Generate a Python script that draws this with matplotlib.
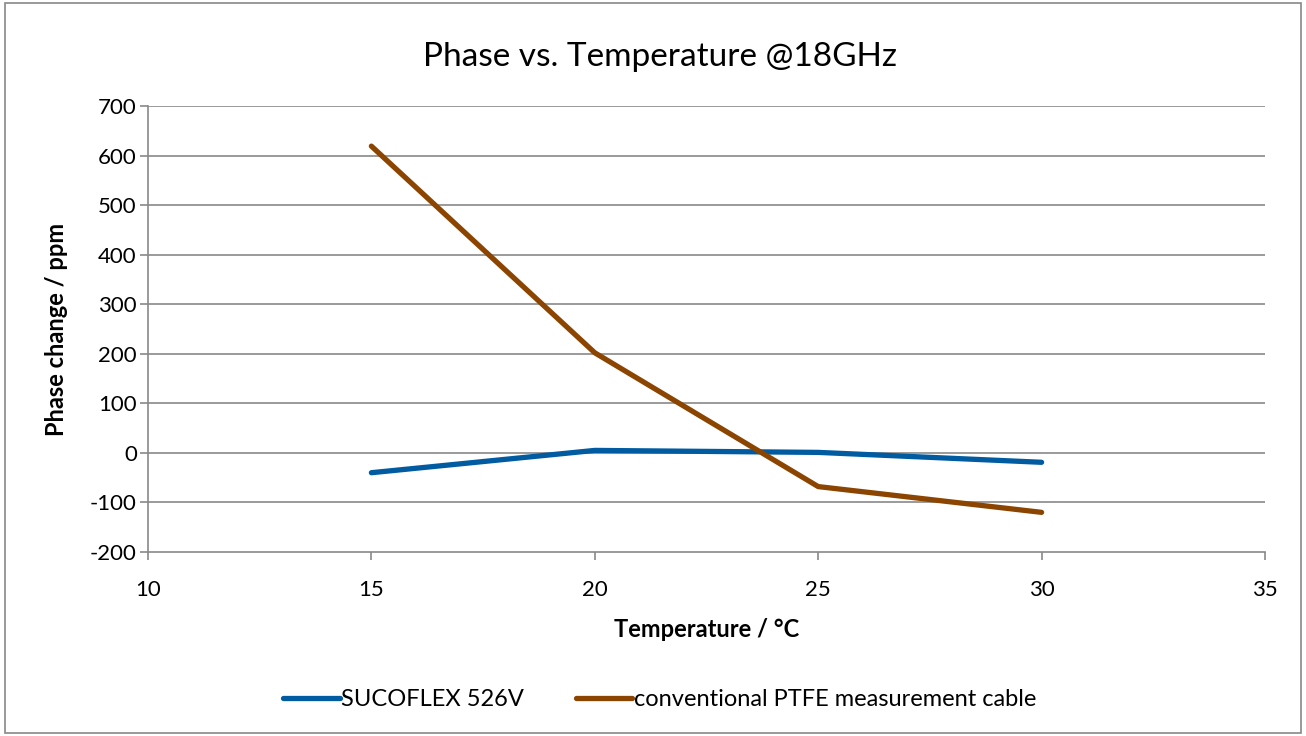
import matplotlib.pyplot as plt
from matplotlib.patches import Rectangle

plt.rcParams['font.family'] = ['Lato', 'DejaVu Sans']
plt.rcParams['axes.unicode_minus'] = False

temperature = [15, 20, 25, 30]
sucoflex = [-40, 5, 1, -19]
ptfe = [619, 202, -68, -120]

x_ticks = [10, 15, 20, 25, 30, 35]
y_ticks = [-200, -100, 0, 100, 200, 300, 400, 500, 600, 700]

fig = plt.figure(figsize=(13.06, 7.36), dpi=100)
ax = fig.add_axes([0.1133, 0.25, 0.8553, 0.606])

grid_c = '#898989'
for y in y_ticks[1:]:
    ax.axhline(y, color=grid_c, linewidth=1.2, zorder=0)

ax.plot(temperature, sucoflex, color='#005ba1', linewidth=3.8, solid_capstyle='round',
        label='SUCOFLEX 526V')
ax.plot(temperature, ptfe, color='#8b4500', linewidth=3.8, solid_capstyle='round',
        label='conventional PTFE measurement cable')

ax.set_xlim(10, 35)
ax.set_ylim(-200, 700)
ax.set_xticks(x_ticks)
ax.set_yticks(y_ticks)
ax.tick_params(axis='both', labelsize=16, color=grid_c, length=6, width=1.2)
ax.tick_params(axis='x', pad=14)
ax.tick_params(axis='y', pad=2)
for s in ['top', 'right']:
    ax.spines[s].set_visible(False)
for s in ['left', 'bottom']:
    ax.spines[s].set_color(grid_c)
    ax.spines[s].set_linewidth(1.2)

ax.set_xlabel('Temperature / °C', fontsize=17, fontweight='bold')
ax.set_ylabel('Phase change / ppm', fontsize=17, fontweight='bold')
ax.xaxis.set_label_coords(0.5, -0.148)
ax.yaxis.set_label_coords(-0.0716, 0.5)
fig.text(0.505, 0.922, 'Phase vs. Temperature @18GHz', fontsize=24, ha='center', va='center')

fig.legend(loc='center', bbox_to_anchor=(0.505, 0.049), ncol=2, frameon=False,
           fontsize=17, handlelength=2.4, handletextpad=0.05, columnspacing=2.2)

fig.patches.append(Rectangle((0.004, 0.004), 0.992, 0.992, transform=fig.transFigure,
                             fill=False, edgecolor='#888888', linewidth=1.2))

fig.savefig('out.png', dpi=100)
